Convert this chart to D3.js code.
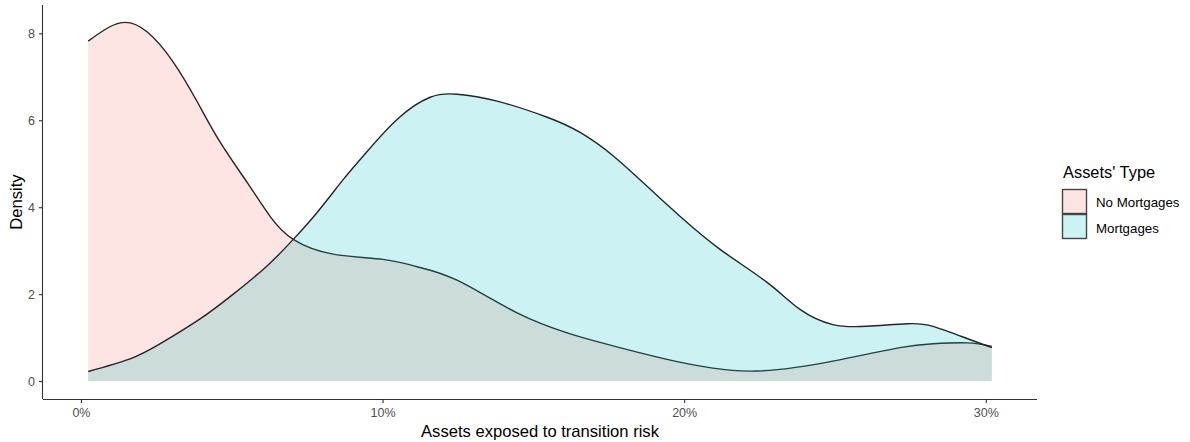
<!DOCTYPE html>
<html>
<head>
<meta charset="utf-8">
<script src="https://cdn.jsdelivr.net/npm/d3@7"></script>
<style>
  html, body { margin: 0; padding: 0; background: #ffffff; }
  svg { display: block; font-family: "Liberation Sans", Arial, sans-serif; }
</style>
</head>
<body>
<svg id="chart" width="1190" height="442"></svg>
<script>
// ---- Data ----
const seriesNames = ["No Mortgages", "Mortgages"];
const noMortgagesX = [0.0024, 0.0130, 0.0220, 0.0306, 0.0386, 0.0462, 0.0551, 0.0627, 0.0704, 0.0836, 0.1002, 0.1115, 0.1247, 0.1446, 0.1612, 0.1721, 0.1943, 0.2218, 0.2493, 0.2715, 0.2825, 0.2938, 0.3020];
const noMortgagesY = [7.82, 8.24, 8.03, 7.34, 6.42, 5.49, 4.57, 3.79, 3.26, 2.92, 2.80, 2.63, 2.32, 1.57, 1.11, 0.89, 0.50, 0.23, 0.46, 0.77, 0.86, 0.88, 0.80];
const mortgagesX = [0.0024, 0.0163, 0.0263, 0.0395, 0.0505, 0.0617, 0.0704, 0.0783, 0.0870, 0.0936, 0.1048, 0.1158, 0.1247, 0.1380, 0.1546, 0.1655, 0.1765, 0.1877, 0.1986, 0.2119, 0.2275, 0.2384, 0.2493, 0.2606, 0.2739, 0.2825, 0.2938, 0.3020];
const mortgagesY = [0.22, 0.51, 0.86, 1.43, 2.00, 2.65, 3.26, 3.88, 4.64, 5.18, 6.02, 6.53, 6.60, 6.44, 6.07, 5.72, 5.18, 4.48, 3.79, 3.03, 2.27, 1.65, 1.30, 1.26, 1.32, 1.26, 0.98, 0.77];
const xTicks = [0, 0.1, 0.2, 0.3];
const yTicks = [0, 2, 4, 6, 8];
const fillColors = ["#F8766D", "#00BFC4"];

const series = [
  { name: seriesNames[0], pts: noMortgagesX.map((x, i) => ({ x, y: noMortgagesY[i] })), color: fillColors[0] },
  { name: seriesNames[1], pts: mortgagesX.map((x, i) => ({ x, y: mortgagesY[i] })), color: fillColors[1] }
];

// ---- Layout ----
const svg = d3.select("#chart");
const panel = { left: 43, right: 1037, top: 5, bottom: 399 };

const allX = noMortgagesX.concat(mortgagesX);
const allY = noMortgagesY.concat(mortgagesY, [0]);
const xMin = d3.min(allX), xMax = d3.max(allX);
const yMin = d3.min(allY), yMax = d3.max(allY);
const xPad = (xMax - xMin) * 0.05, yPad = (yMax - yMin) * 0.05;

const x = d3.scaleLinear().domain([xMin - xPad, xMax + xPad]).range([panel.left, panel.right]);
const y = d3.scaleLinear().domain([yMin - yPad, yMax + yPad]).range([panel.bottom, panel.top]);

const curve = d3.curveNatural;
const area = d3.area().x(d => x(d.x)).y0(y(0)).y1(d => y(d.y)).curve(curve);
const line = d3.line().x(d => x(d.x)).y(d => y(d.y)).curve(curve);

const g = svg.append("g");
series.forEach(s => {
  g.append("path").datum(s.pts).attr("d", area)
    .attr("fill", s.color).attr("fill-opacity", 0.2).attr("stroke", "none");
  g.append("path").datum(s.pts).attr("d", line)
    .attr("fill", "none").attr("stroke", "#252525").attr("stroke-width", 1.4);
});

// ---- Axes ----
const xAxis = d3.axisBottom(x).tickValues(xTicks).tickFormat(d3.format(".0%")).tickSizeOuter(0).tickSize(4).tickPadding(5);
const yAxis = d3.axisLeft(y).tickValues(yTicks).tickFormat(d3.format("d")).tickSizeOuter(0).tickSize(4).tickPadding(4);

const gx = svg.append("g").attr("transform", `translate(0,${panel.bottom})`).call(xAxis);
const gy = svg.append("g").attr("transform", `translate(${panel.left},0)`).call(yAxis);
[gx, gy].forEach(a => {
  a.select(".domain").attr("stroke", "#333").attr("stroke-width", 1.1);
  a.selectAll(".tick line").attr("stroke", "#333").attr("stroke-width", 1.1);
  a.selectAll(".tick text").attr("fill", "#4D4D4D").style("font-size", "12.5px")
    .style("font-family", "'Liberation Sans', Arial, sans-serif");
});
gx.select(".domain").attr("d", `M${panel.left},0.5H${panel.right}`);
gy.select(".domain").attr("d", `M-0.5,${panel.top}V${panel.bottom}`);

// Axis titles
svg.append("text").attr("x", 540).attr("y", 437)
  .attr("text-anchor", "middle").attr("fill", "#000").style("font-size", "16.6px")
  .text("Assets exposed to transition risk");
svg.append("text").attr("transform", `translate(22,${(panel.top + panel.bottom) / 2}) rotate(-90)`)
  .attr("text-anchor", "middle").attr("fill", "#000").style("font-size", "16.6px")
  .text("Density");

// ---- Legend ----
const lg = svg.append("g").attr("transform", "translate(1062,0)");
lg.append("text").attr("x", 1).attr("y", 178).attr("fill", "#000").style("font-size", "16.4px").text("Assets' Type");
series.forEach((s, i) => {
  const top = 189 + i * 25;
  lg.append("rect").attr("x", 0.5).attr("y", top + 0.5).attr("width", 24).attr("height", 24)
    .attr("fill", "#fff");
  lg.append("rect").attr("x", 0.5).attr("y", top + 0.5).attr("width", 24).attr("height", 24)
    .attr("fill", s.color).attr("fill-opacity", 0.2).attr("stroke", "#444").attr("stroke-width", 1.4);
  lg.append("text").attr("x", 34).attr("y", top + 17.5 + i * 1).attr("fill", "#000").style("font-size", "13.3px").text(s.name);
});
</script>
</body>
</html>
